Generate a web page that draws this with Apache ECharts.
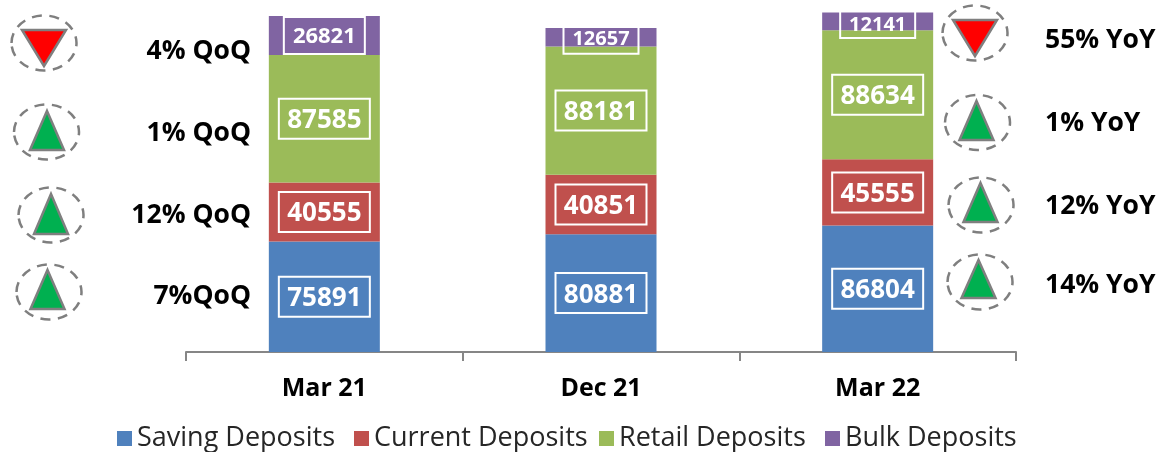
<!DOCTYPE html>
<html>
<head>
<meta charset="utf-8">
<style>html,body{margin:0;padding:0;background:#fff}#c{width:1158px;height:452px}</style>
<script src="https://cdn.jsdelivr.net/npm/echarts@6/dist/echarts.min.js"></script>
</head>
<body>
<div id="c"></div>
<script>
const categories = ['Mar 21', 'Dec 21', 'Mar 22'];
const savingDeposits = [75891, 80881, 86804];
const currentDeposits = [40555, 40851, 45555];
const retailDeposits = [87585, 88181, 88634];
const bulkDeposits = [26821, 12657, 12141];
const qoqLabels = ['4% QoQ', '1% QoQ', '12% QoQ', '7%QoQ'];
const yoyLabels = ['55% YoY', '1% YoY', '12% YoY', '14% YoY'];
const qoqDirections = ['down', 'up', 'up', 'up'];
const yoyDirections = ['down', 'up', 'up', 'up'];

const FONT = '"Open Sans", Lato, sans-serif';
const GREY = '#7f7f7f';

function boxLabel(size) {
  return {
    show: true, position: 'inside', color: '#fff', fontFamily: FONT, fontWeight: 'bold',
    fontSize: size, borderColor: '#fff', borderWidth: 2, align: 'center', verticalAlign: 'top'
  };
}
function mainSeries(name, color, values) {
  return {
    name, type: 'bar', stack: 'total', barWidth: 111, data: values,
    itemStyle: { color },
    label: Object.assign(boxLabel(26), {
      width: 91, height: 36, lineHeight: 36, padding: [4, 0, 0, 0], offset: [0, -20]
    })
  };
}
const bulkBoxes = [
  { width: 81, height: 34, lineHeight: 34, offset: [0, -18.5], fontSize: 22, padding: [3, 0, 0, 0] },
  { width: 75, height: 27, lineHeight: 26, offset: [0, -10.4], fontSize: 20, padding: 0 },
  { width: 75, height: 27, lineHeight: 28, offset: [0, -10.5], fontSize: 20, padding: 0 }
];
const series = [
  mainSeries('Saving Deposits', '#4f81bd', savingDeposits),
  mainSeries('Current Deposits', '#c0504d', currentDeposits),
  mainSeries('Retail Deposits', '#9bbb59', retailDeposits),
  {
    name: 'Bulk Deposits', type: 'bar', stack: 'total', barWidth: 111,
    itemStyle: { color: '#8064a2' },
    label: boxLabel(22),
    data: bulkDeposits.map((value, i) => ({
      value,
      label: {
        width: bulkBoxes[i].width, height: bulkBoxes[i].height,
        lineHeight: bulkBoxes[i].lineHeight, offset: bulkBoxes[i].offset,
        fontSize: bulkBoxes[i].fontSize, padding: bulkBoxes[i].padding
      }
    }))
  }
];

function marker(cx, cy, tx, topY, baseY, halfW, dir) {
  const pts = dir === 'down'
    ? [[tx - 22, topY], [tx + 22, topY], [tx, baseY]]
    : [[tx, topY], [tx + halfW, baseY], [tx - halfW, baseY]];
  return [
    { type: 'ellipse', shape: { cx, cy, rx: 32.5, ry: 27.5 }, silent: true,
      style: { fill: 'none', stroke: GREY, lineWidth: 2.5, lineDash: [10, 7.5] } },
    { type: 'polygon', shape: { points: pts }, silent: true,
      style: { fill: dir === 'down' ? '#ff0000' : '#00b050', stroke: GREY, lineWidth: 2.5, lineJoin: 'miter' } }
  ];
}
function sideText(text, x, y, align) {
  return { type: 'text', x, y, silent: true,
    style: { text, fill: '#000', font: 'bold 26.5px ' + FONT, textAlign: align, textVerticalAlign: 'middle' } };
}
const leftMarkers = [[44, 43, 44, 30, 66, 22], [46.5, 132, 47, 111, 150, 17], [51, 215, 51, 194, 234, 17], [49, 292, 47.5, 270, 309, 17]];
const rightMarkers = [[975, 33, 975, 20, 56, 22], [977.5, 122.5, 976.5, 101, 140, 17], [981, 205, 980.5, 183, 222, 17], [980, 282, 978.5, 260, 298, 17]];
const leftTextY = [51, 133, 215, 296];
const rightTextY = [40, 123, 206, 285];

const graphicElements = [];
qoqLabels.forEach((t, i) => {
  const m = leftMarkers[i];
  graphicElements.push(...marker(m[0], m[1], m[2], m[3], m[4], m[5], qoqDirections[i]));
  graphicElements.push(sideText(t, 251, leftTextY[i], 'right'));
});
yoyLabels.forEach((t, i) => {
  const m = rightMarkers[i];
  graphicElements.push(...marker(m[0], m[1], m[2], m[3], m[4], m[5], yoyDirections[i]));
  graphicElements.push(sideText(t, 1045, rightTextY[i], 'left'));
});

const legendLefts = [112, 349, 594, 820];
const chart = echarts.init(document.getElementById('c'), null, { renderer: 'canvas' });
chart.setOption({
  animation: false,
  backgroundColor: '#fff',
  grid: { left: 186, top: 2, width: 830, height: 350, containLabel: false },
  xAxis: {
    type: 'category', data: categories,
    axisLine: { lineStyle: { color: '#868686', width: 2 } },
    axisTick: { show: true, length: 9, alignWithLabel: false, lineStyle: { color: '#868686', width: 2 } },
    axisLabel: { color: '#000', fontFamily: FONT, fontWeight: 'bold', fontSize: 25, margin: 24, interval: 0 }
  },
  yAxis: { type: 'value', min: 0, max: 240400, show: false, splitLine: { show: false } },
  legend: series.map((s, i) => ({
    left: legendLefts[i], top: 420, itemWidth: 15, itemHeight: 15, icon: 'rect',
    textStyle: { color: '#262626', fontFamily: FONT, fontSize: 27 },
    data: [s.name]
  })),
  series,
  graphic: { elements: graphicElements }
});
</script>
</body>
</html>
